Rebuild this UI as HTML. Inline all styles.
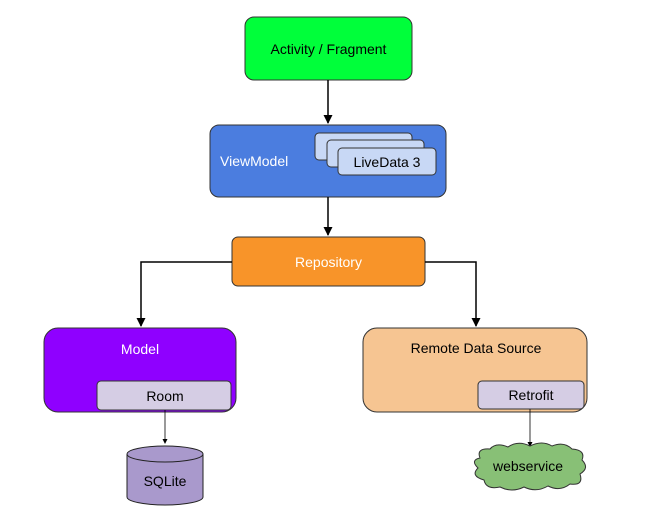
<!DOCTYPE html><html><head><style>body{margin:0;background:#fff}svg{display:block}text{font-family:"Liberation Sans",sans-serif;font-size:14px}</style></head><body>
<svg width="652" height="518" viewBox="0 0 652 518">
<defs><marker id="a" markerWidth="9" markerHeight="9" refX="8" refY="4.5" orient="auto" markerUnits="userSpaceOnUse"><path d="M0,0L9,4.5L0,9z" fill="#000"/></marker>
<marker id="b" markerWidth="5" markerHeight="5" refX="4" refY="2.5" orient="auto" markerUnits="userSpaceOnUse"><path d="M0,0L5,2.5L0,5z" fill="#000"/></marker></defs>
<rect x="245" y="17" width="167" height="63" rx="9" fill="#00ff3a" stroke="#333"/>
<text x="328.5" y="54" text-anchor="middle">Activity / Fragment</text>
<line x1="328" y1="80" x2="328" y2="123" stroke="#000" stroke-width="1.5" marker-end="url(#a)"/>
<rect x="210" y="125" width="236" height="72" rx="9" fill="#4b7ddf" stroke="#333"/>
<text x="220" y="166" fill="#fff">ViewModel</text>
<rect x="315" y="133" width="97" height="27" rx="4" fill="#c8d8f5" stroke="#333"/>
<rect x="327" y="140" width="97" height="27" rx="4" fill="#c8d8f5" stroke="#333"/>
<rect x="338" y="148" width="98" height="27" rx="4" fill="#c8d8f5" stroke="#333"/>
<text x="387" y="167" text-anchor="middle">LiveData 3</text>
<line x1="328" y1="197" x2="328" y2="235" stroke="#000" stroke-width="1.5" marker-end="url(#a)"/>
<rect x="232" y="237" width="193" height="49" rx="6" fill="#f89429" stroke="#333"/>
<text x="328.5" y="267" text-anchor="middle" fill="#fff">Repository</text>
<polyline points="232,262 141,262 141,326" fill="none" stroke="#000" stroke-width="1.5" marker-end="url(#a)"/>
<polyline points="425,262 476,262 476,326" fill="none" stroke="#000" stroke-width="1.5" marker-end="url(#a)"/>
<rect x="44" y="328" width="192" height="84" rx="14" fill="#8f00ff" stroke="#333"/>
<text x="140" y="354" text-anchor="middle" fill="#fff">Model</text>
<rect x="97" y="381" width="134" height="29" rx="4" fill="#d5cde4" stroke="#333"/>
<text x="165" y="401" text-anchor="middle">Room</text>
<line x1="165" y1="410" x2="165" y2="443" stroke="#000" stroke-width="0.8" marker-end="url(#b)"/>
<path d="M127,454 L127,497 A38,8 0 0 0 203,497 L203,454 A38,8 0 0 0 127,454 Z" fill="#a999cc" stroke="#222"/>
<path d="M127,454 A38,8 0 0 0 203,454" fill="none" stroke="#222"/>
<text x="165" y="486" text-anchor="middle" font-size="15">SQLite</text>
<rect x="363" y="328" width="224" height="84" rx="14" fill="#f6c592" stroke="#333"/>
<text x="476" y="353" text-anchor="middle">Remote Data Source</text>
<rect x="478" y="381" width="106" height="28" rx="4" fill="#d5cde4" stroke="#333"/>
<text x="531" y="400" text-anchor="middle">Retrofit</text>
<line x1="530" y1="409" x2="530" y2="446" stroke="#000" stroke-width="0.8" marker-end="url(#b)"/>
<path d="M480,458 Q476,448 490,449 Q496,442 508,447 Q518,440 530,446 Q542,440 552,446 Q564,441 572,449 Q586,450 582,460 Q590,468 580,474 Q584,486 570,484 Q560,492 548,486 Q536,493 524,487 Q512,493 500,487 Q486,490 484,480 Q470,476 478,468 Q470,460 480,458 Z" fill="#88c076" stroke="#333"/>
<text x="528" y="471" text-anchor="middle" font-size="11">webservice</text>
</svg></body></html>
